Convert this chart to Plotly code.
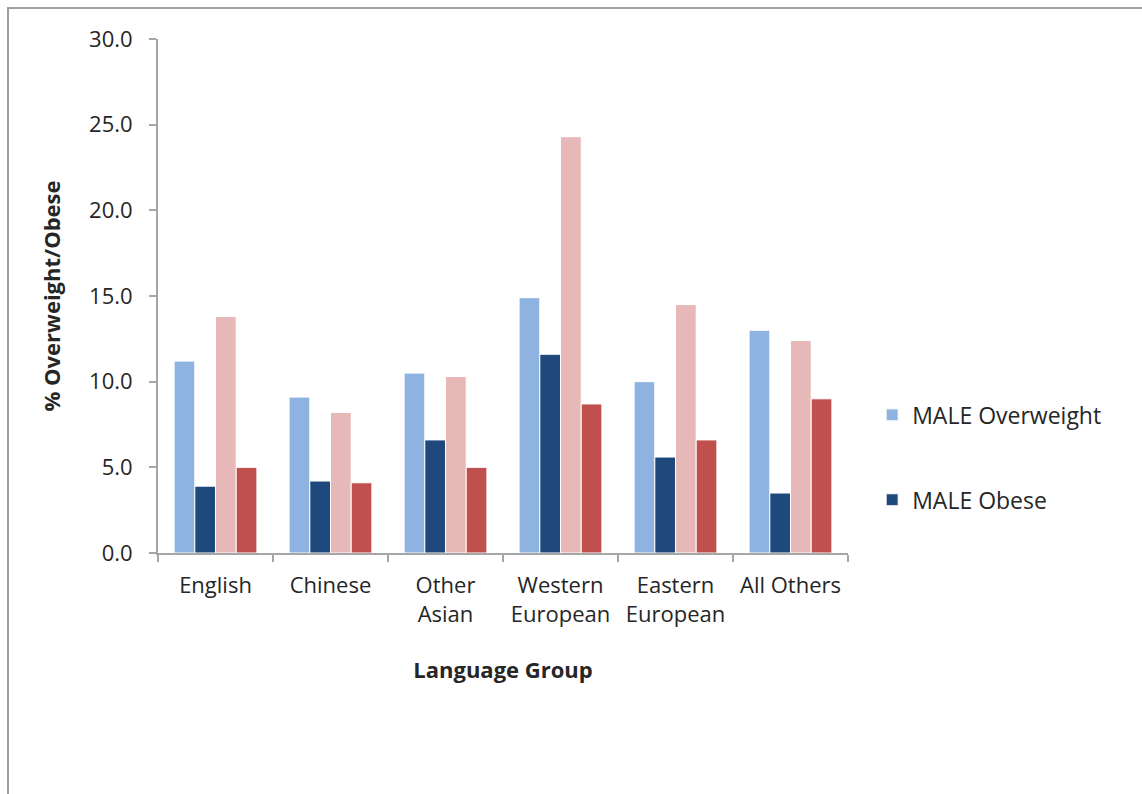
import plotly.graph_objects as go

# Language groups on the x axis
groups = ["English", "Chinese", "Other<br>Asian", "Western<br>European",
          "Eastern<br>European", "All Others"]

# Percent overweight / obese by group
male_overweight = [11.2, 9.1, 10.5, 14.9, 10.0, 13.0]
male_obese = [3.9, 4.2, 6.6, 11.6, 5.6, 3.5]
female_overweight = [13.8, 8.2, 10.3, 24.3, 14.5, 12.4]
female_obese = [5.0, 4.1, 5.0, 8.7, 6.6, 9.0]

y_ticks = [0, 5, 10, 15, 20, 25, 30]
y_tick_labels = ["0.0", "5.0", "10.0", "15.0", "20.0", "25.0", "30.0"]

FONT = "Open Sans, Noto Sans, sans-serif"
TEXT = "#262626"
AXIS = "#a6a6a6"

series = [
    ("MALE Overweight", male_overweight, "#8fb3e0", True, "g1"),
    ("MALE Obese", male_obese, "#1f497d", True, "g2"),
    ("FEMALE Overweight", female_overweight, "#e6b8b7", False, "g3"),
    ("FEMALE Obese", female_obese, "#c0504d", False, "g4"),
]

fig = go.Figure()
for name, vals, color, show, grp in series:
    fig.add_trace(go.Bar(
        x=groups, y=vals, name=name, showlegend=show, legendgroup=grp,
        marker=dict(color=color, line=dict(color="white", width=1)),
    ))

fig.update_layout(
    width=1142, height=794,
    paper_bgcolor="white", plot_bgcolor="white",
    margin=dict(l=158, r=294, t=39, b=241),
    barmode="group", bargap=0.28, bargroupgap=0,
    font=dict(family=FONT, color=TEXT, size=22),
    legend=dict(
        x=1.035, y=0.186, xanchor="left", yanchor="middle",
        font=dict(family=FONT, size=23, color=TEXT),
        traceorder="grouped", tracegroupgap=52,
        itemwidth=30,
    ),
    xaxis=dict(
        showline=True, linecolor=AXIS, linewidth=2,
        ticks="outside", tickson="boundaries", ticklen=7, tickcolor=AXIS, tickwidth=2,
        ticklabelstandoff=12,
        tickfont=dict(family=FONT, size=22, color=TEXT),
        title=dict(text="<b>Language Group</b>", font=dict(family=FONT, size=22, color=TEXT),
                   standoff=36),
        showgrid=False,
    ),
    yaxis=dict(
        range=[0, 30], tickvals=y_ticks, ticktext=y_tick_labels,
        showline=True, linecolor=AXIS, linewidth=2,
        ticks="outside", ticklen=7, tickcolor=AXIS, tickwidth=2,
        ticklabelstandoff=12,
        tickfont=dict(family=FONT, size=22, color=TEXT),
        title=dict(text="<b>% Overweight/Obese</b>", font=dict(family=FONT, size=22, color=TEXT),
                   standoff=22),
        showgrid=False, zeroline=False,
    ),
    shapes=[
        # outer chart frame running off the page at right and bottom
        dict(type="rect", xref="paper", yref="paper",
             x0=-0.2174, x1=2.0, y0=-2.0, y1=1.0603,
             line=dict(color="#a0a0a0", width=2), layer="below"),
    ],
)

fig.write_html("out.html")
